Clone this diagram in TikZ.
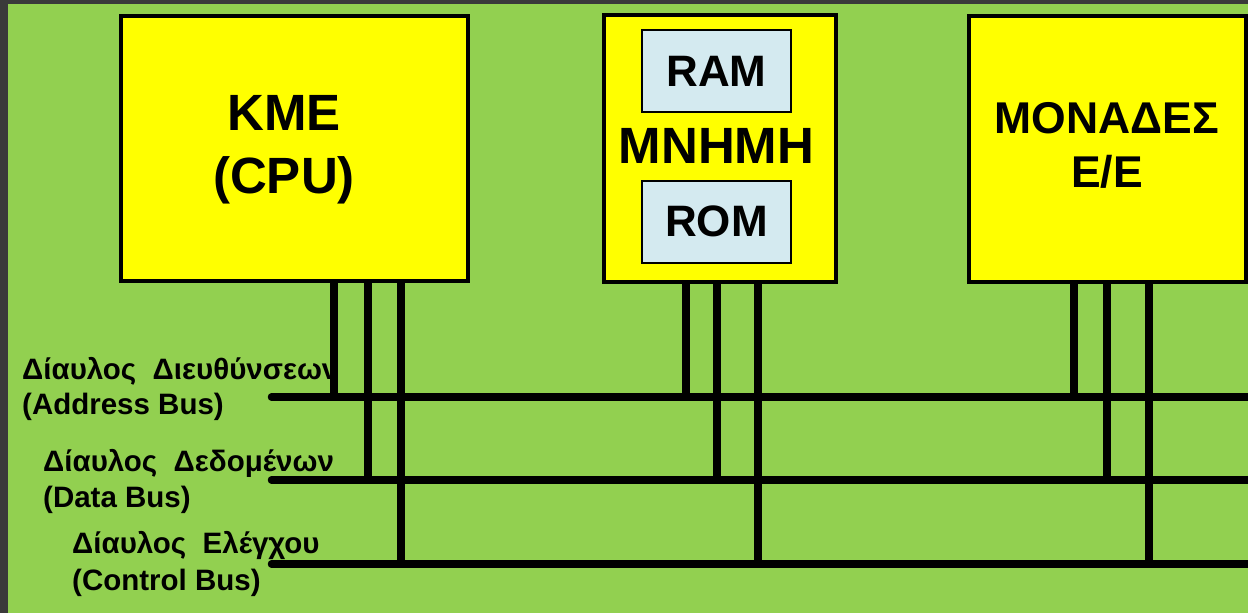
\documentclass[tikz,border=0pt]{standalone}
\usepackage{fontspec}
\setmainfont{Liberation Sans}
\definecolor{bggreen}{RGB}{146,208,80}
\definecolor{bggray}{RGB}{58,58,58}
\definecolor{memblue}{RGB}{212,234,240}
\definecolor{boxyellow}{RGB}{255,255,0}
\begin{document}
\begin{tikzpicture}[x=1pt,y=-1pt,
  unitbox/.style={draw=black,line width=4pt,fill=boxyellow,inner sep=0pt,anchor=north west},
  membox/.style={draw=black,line width=2pt,fill=memblue,inner sep=0pt,
    minimum width=149pt,minimum height=82pt,font=\bfseries\fontsize{44}{50}\selectfont},
  busline/.style={line width=7.5pt,line cap=round},
  tapline/.style={line width=7.5pt,line cap=round},
  bigtitle/.style={font=\bfseries\fontsize{51}{63}\selectfont,align=center,inner sep=0pt,anchor=base},
  iotitle/.style={font=\bfseries\fontsize{44.5}{54}\selectfont,align=center,inner sep=0pt,anchor=base},
  buslabel/.style={align=left,inner sep=0pt,anchor=base west}]
\useasboundingbox (0,0) rectangle (1248,613);
\fill[bggray] (0,0) rectangle (1248,613);
\fill[bggreen] (8,4) rectangle (1248,613);

% units
\node[unitbox,minimum width=347pt,minimum height=265pt] (cpu) at (119,14) {};
\node[unitbox,minimum width=232pt,minimum height=267pt] (mem) at (601.5,13) {};
\node[unitbox,minimum width=277pt,minimum height=266pt] (io) at (967,14) {};

\node[bigtitle] (cputxt) at (284,193) {ΚΜΕ\\(CPU)};
\node[membox] (ram) at (716.5,71) {RAM};
\node[membox] (rom) at (716.5,221.5) {ROM};
\node[bigtitle] (memtxt) at (716.5,163) {ΜΝΗΜΗ};
\node[iotitle] (iotxt) at (1107,187) {ΜΟΝΑΔΕΣ\\Ε/Ε};

% bus labels
\node[buslabel,font=\bfseries\fontsize{29.5}{35}\selectfont] (alab) at (22,414) {Δίαυλος\ \ Διευθύνσεων\\(Address Bus)};
\node[buslabel,font=\bfseries\fontsize{29.5}{36}\selectfont] (dlab) at (43,507) {Δίαυλος\ \ Δεδομένων\\(Data Bus)};
\node[buslabel,font=\bfseries\fontsize{29.5}{37}\selectfont] (clab) at (72,590) {Δίαυλος\ \ Ελέγχου\\(Control Bus)};

% bus end points
\coordinate (aL) at (271.5,397); \coordinate (aR) at (1256,397);
\coordinate (dL) at (271.5,480); \coordinate (dR) at (1256,480);
\coordinate (cL) at (271.5,564); \coordinate (cR) at (1256,564);
\draw[busline] (aL) -- (aR);
\draw[busline] (dL) -- (dR);
\draw[busline] (cL) -- (cR);

% tap positions
\coordinate (x1) at (334,0); \coordinate (x2) at (368,0); \coordinate (x3) at (401,0);
\coordinate (y1) at (686,0); \coordinate (y2) at (717,0); \coordinate (y3) at (758,0);
\coordinate (z1) at (1074,0); \coordinate (z2) at (1107,0); \coordinate (z3) at (1149,0);

\draw[tapline] (cpu.south -| x1) -- (aL -| x1);
\draw[tapline] (cpu.south -| x2) -- (dL -| x2);
\draw[tapline] (cpu.south -| x3) -- (cL -| x3);
\draw[tapline] (mem.south -| y1) -- (aL -| y1);
\draw[tapline] (mem.south -| y2) -- (dL -| y2);
\draw[tapline] (mem.south -| y3) -- (cL -| y3);
\draw[tapline] (io.south -| z1) -- (aL -| z1);
\draw[tapline] (io.south -| z2) -- (dL -| z2);
\draw[tapline] (io.south -| z3) -- (cL -| z3);
\end{tikzpicture}
\end{document}
